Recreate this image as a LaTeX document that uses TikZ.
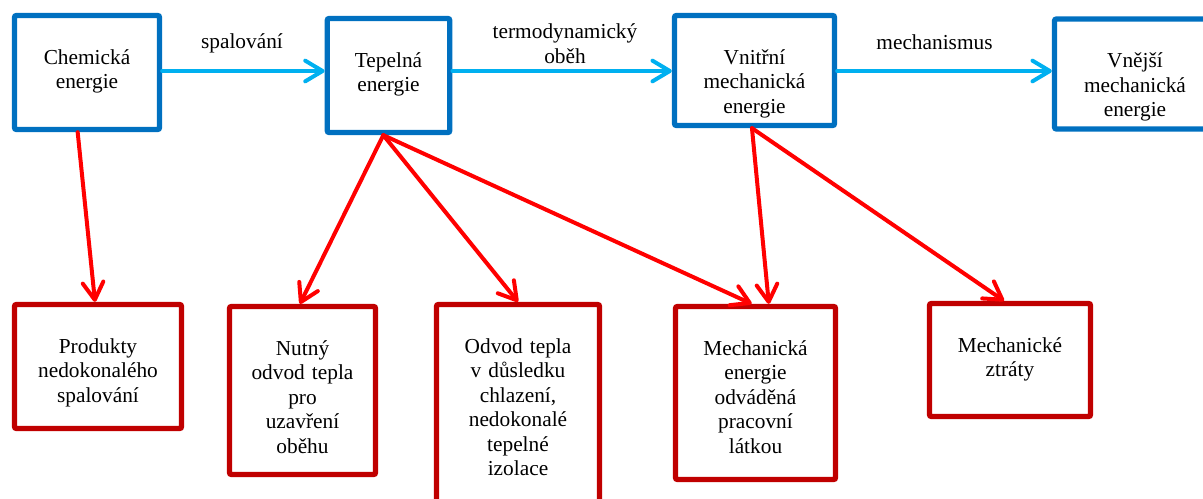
\documentclass[tikz,border=0pt]{standalone}
\usepackage{fontspec}
\setmainfont{Liberation Serif}
\usetikzlibrary{arrows.meta}

\definecolor{boxblue}{RGB}{0,112,192}
\definecolor{boxred}{RGB}{192,0,0}
\definecolor{flowblue}{RGB}{0,176,240}
\definecolor{lossred}{RGB}{255,0,0}

\tikzset{
    energybox/.style={draw=boxblue, line width=4pt, rounded corners=1.5pt,
        align=center, inner sep=0pt, text height=36.4pt,
        font=\fontsize{16pt}{18.4pt}\selectfont},
    lossbox/.style={energybox, draw=boxred},
    flow/.style={flowblue, line width=3pt, line cap=round,
        -{Straight Barb[length=13pt,width=15.5pt,round]}},
    loss/.style={lossred, line width=3pt, line cap=round,
        -{Straight Barb[length=13pt,width=15.5pt,round]}},
    flowlabel/.style={inner sep=0pt, align=center, anchor=base,
        font=\fontsize{16pt}{18.6pt}\selectfont}
}

\begin{document}
\begin{tikzpicture}[x=0.75pt,y=-0.75pt]
    \clip (0,0) rectangle (1203,499);
    % energie
    \node[energybox, minimum width=108.75pt, text width=100pt, text depth=49.1pt] (chem) at (87,72.5) {Chemická\\energie};
    \node[energybox, minimum width=91.9pt, text width=85pt, text depth=49.1pt] (tep) at (388.5,75.5) {Tepelná\\energie};
    \node[energybox, minimum width=120pt, text width=110pt, text depth=46.1pt] (vnit) at (754.5,70.5) {Vnitřní\\mechanická\\energie};
    \node[energybox, minimum width=120.75pt, text width=110pt, text depth=46.1pt] (vnej) at (1135,74) {Vnější\\mechanická\\energie};
    % ztraty
    \node[lossbox, minimum width=125.25pt, text width=115pt, text depth=56.6pt] (prod) at (98,366.5) {Produkty\\nedokonalého\\spalování};
    \node[lossbox, minimum width=109.5pt, text width=100pt, text depth=89.6pt] (nutny) at (302.5,390.5) {Nutný\\odvod tepla\\pro\\uzavření\\oběhu};
    \node[lossbox, minimum width=122.25pt, text width=112pt, text depth=124.85pt] (odvod) at (518,412) {Odvod tepla\\v důsledku\\chlazení,\\nedokonalé\\tepelné\\izolace};
    \node[lossbox, minimum width=120pt, text width=110pt, text depth=93.35pt] (mechen) at (755.5,393) {Mechanická\\energie\\odváděná\\pracovní\\látkou};
    \node[lossbox, minimum width=120.75pt, text width=110pt, text depth=48.35pt] (ztraty) at (1010,360) {Mechanické\\ztráty};
    % premeny
    \coordinate (flowrow) at (0,71);
    \draw[flow] (chem.east |- flowrow) -- (tep.west |- flowrow);
    \draw[flow] (tep.east |- flowrow) -- (vnit.west |- flowrow);
    \draw[flow] (vnit.east |- flowrow) -- (vnej.west |- flowrow);
    \node[flowlabel] (spal) at (242,49) {spalování};
    \node[flowlabel, text width=120pt] (termo) at (565,38.3) {termodynamický\\oběh};
    \node[flowlabel] (mechan) at (934.5,50) {mechanismus};
    % ztraty
    \draw[loss] ([xshift=-7pt]chem.south) -- ([xshift=-2.25pt]prod.north);
    \draw[loss] ([xshift=-3.9pt]tep.south) -- ([xshift=-1.9pt]nutny.north);
    \draw[loss] ([xshift=-3.9pt]tep.south) -- (odvod.north);
    \draw[loss] ([xshift=-3.9pt]tep.south) -- ([xshift=-2.9pt]mechen.north);
    \draw[loss] ([xshift=-1.9pt]vnit.south) -- ([xshift=10pt]mechen.north);
    \draw[loss] ([xshift=-1.9pt]vnit.south) -- ([xshift=-4.5pt]ztraty.north);
\end{tikzpicture}
\end{document}
